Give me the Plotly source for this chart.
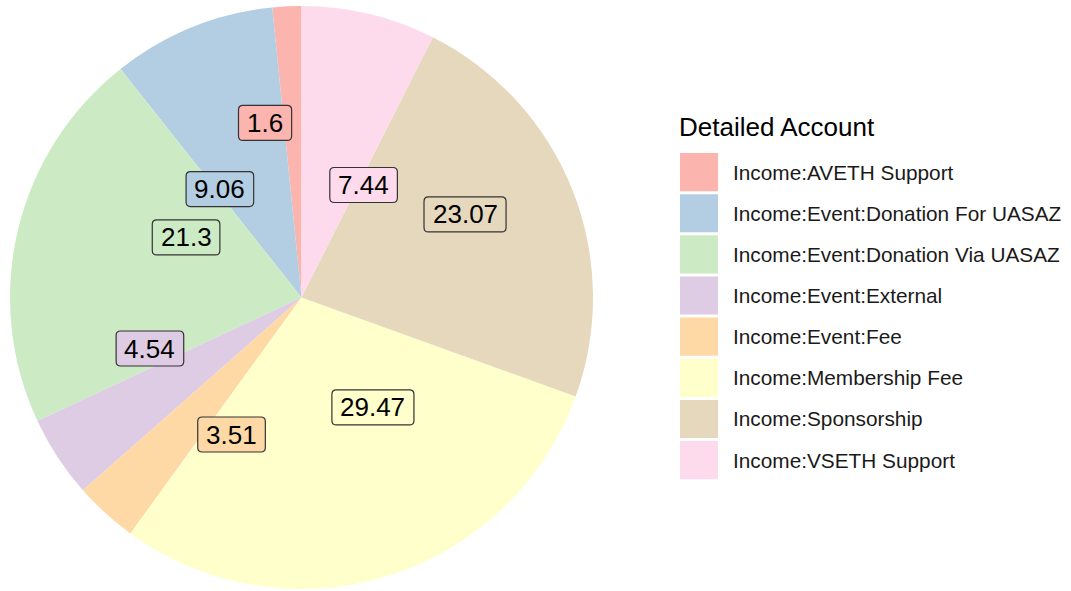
import plotly.graph_objects as go

# ---- data ----
categories = [
    "Income:AVETH Support",
    "Income:Event:Donation For UASAZ",
    "Income:Event:Donation Via UASAZ",
    "Income:Event:External",
    "Income:Event:Fee",
    "Income:Membership Fee",
    "Income:Sponsorship",
    "Income:VSETH Support",
]
values = [1.6, 9.06, 21.3, 4.54, 3.51, 29.47, 23.07, 7.44]
colors = ["#FBB4AE", "#B3CDE3", "#CCEBC5", "#DECBE4",
          "#FED9A6", "#FFFFCC", "#E5D8BD", "#FDDAEC"]

# label placement (repelled positions, in units of pie radius, relative to centre)
label_offsets = [(-0.125, 0.599), (-0.280, 0.372), (-0.396, 0.206), (-0.520, -0.175),
                 (-0.240, -0.470), (0.245, -0.377), (0.561, 0.285), (0.213, 0.386)]

W, H = 1071, 591
cx, cy, R = 301.5, 297.5, 291.5  # pie geometry in pixels
FONT = "Liberation Sans, Arial, Helvetica, sans-serif"

first_angle = values[0] / sum(values) * 360

fig = go.Figure()
fig.add_trace(go.Pie(
    labels=categories, values=values, sort=False, direction="counterclockwise",
    rotation=-first_angle, textinfo="none", hoverinfo="label+value",
    marker=dict(colors=colors, line=dict(width=0)),
    domain=dict(x=[(cx - R) / W, (cx + R) / W], y=[1 - (cy + R) / H, 1 - (cy - R) / H]),
    showlegend=False,
))

def text_width(s, size):
    w = 0
    for ch in s:
        w += 0.278 if ch == "." else 0.556
    return w * size

def rounded_rect(px0, py0, px1, py1, r=4.5):
    # pixel box -> paper path with rounded corners
    X = lambda p: p / W
    Y = lambda p: 1 - p / H
    return (f"M {X(px0 + r)},{Y(py0)} L {X(px1 - r)},{Y(py0)} Q {X(px1)},{Y(py0)} {X(px1)},{Y(py0 + r)} "
            f"L {X(px1)},{Y(py1 - r)} Q {X(px1)},{Y(py1)} {X(px1 - r)},{Y(py1)} "
            f"L {X(px0 + r)},{Y(py1)} Q {X(px0)},{Y(py1)} {X(px0)},{Y(py1 - r)} "
            f"L {X(px0)},{Y(py0 + r)} Q {X(px0)},{Y(py0)} {X(px0 + r)},{Y(py0)} Z")

annotations = []
shapes = []
for v, c, (dx, dy) in zip(values, colors, label_offsets):
    txt = f"{v:g}"
    px = cx + dx * R
    py = cy - dy * R
    bw = text_width(txt, 26) + 17
    bh = 35
    shapes.append(dict(type="path", xref="paper", yref="paper",
                       path=rounded_rect(px - bw / 2, py - bh / 2, px + bw / 2, py + bh / 2),
                       fillcolor=c, line=dict(color="#333333", width=1.2)))
    annotations.append(dict(
        x=px / W, y=1 - py / H, xref="paper", yref="paper", text=txt,
        showarrow=False, font=dict(family=FONT, size=26, color="#000000"),
        xanchor="center", yanchor="middle",
    ))

# legend (drawn manually to match large swatches)
leg_x0, leg_top, pitch, sw = 680, 153, 41.15, 38
annotations.append(dict(
    x=(leg_x0 - 3) / W, y=1 - 127 / H, xref="paper", yref="paper", text="Detailed Account",
    showarrow=False, xanchor="left", yanchor="middle",
    font=dict(family=FONT, size=26, color="#000000"),
))
for i, (cat, c) in enumerate(zip(categories, colors)):
    y0 = leg_top + i * pitch
    shapes.append(dict(type="rect", xref="paper", yref="paper",
                       x0=leg_x0 / W, x1=(leg_x0 + sw) / W,
                       y0=1 - (y0 + pitch - 3) / H, y1=1 - y0 / H,
                       fillcolor=c, line=dict(width=0)))
    annotations.append(dict(
        x=731 / W, y=1 - (y0 + (pitch - 3) / 2) / H, xref="paper", yref="paper",
        text=cat, showarrow=False, xanchor="left", yanchor="middle",
        font=dict(family=FONT, size=20.8, color="#1a1a1a"),
    ))

fig.update_layout(
    width=W, height=H, autosize=False,
    margin=dict(l=0, r=0, t=0, b=0),
    paper_bgcolor="white", plot_bgcolor="white",
    annotations=annotations, shapes=shapes,
)

fig.write_html("out.html", config={"displayModeBar": False},
               post_script="document.body.style.margin='0';document.body.style.overflow='hidden';")
